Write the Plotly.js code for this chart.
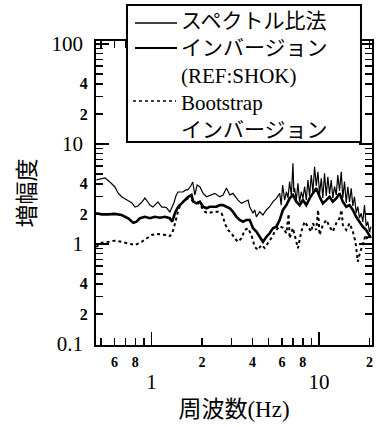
<!DOCTYPE html>
<html>
<head>
<meta charset="utf-8">
<script src="https://cdn.plot.ly/plotly-3.0.1.min.js"></script>
<style>html,body{margin:0;padding:0;background:#fff;}#chart{width:379px;height:427px;}</style>
</head>
<body>
<div id="chart"></div>
<script>
// ---- data (frequency in Hz, amplification) ----
const seriesNames = ['スペクトル比法', 'インバージョン (REF:SHOK)', 'Bootstrap インバージョン'];

const freqSpec = [0.468,0.492,0.527,0.564,0.604,0.630,0.665,0.713,0.763,0.795,0.828,0.875,0.912,0.950,0.977,1.018,1.061,1.091,1.151,1.200,1.233,1.285,1.358,1.396,1.436,1.538,1.600,1.645,1.714,1.762,1.811,1.870,1.941,2.03,2.13,2.23,2.38,2.55,2.67,2.80,2.93,3.06,3.28,3.44,3.60,3.77,3.85,4.03,4.13,4.22,4.42,4.62,4.84,5.07,5.31,5.56,5.82,
  5.94,6.06,6.23,6.38,6.52,6.67,6.83,6.98,7.07,7.14,7.31,7.48,7.65,7.83,8.01,8.20,8.39,8.58,8.78,8.98,9.19,9.40,9.62,9.84,10.07,10.31,10.53,10.78,11.04,11.28,11.55,11.82,12.08,12.37,12.66,12.94,13.25,13.56,13.86,14.19,14.53,14.85,15.20,15.56,15.90,16.27,16.66,17.03,17.43,17.84,18.24,18.67,19.11,19.53,20.0,20.41];
const ampSpec = [4.37,4.47,4.57,4.17,3.72,3.24,2.95,2.75,2.57,2.34,2.40,2.63,2.88,2.63,2.45,2.34,2.51,2.63,2.34,2.34,2.29,2.09,2.57,3.02,3.31,3.31,3.47,3.47,3.80,4.17,3.09,3.89,3.74,3.21,2.97,3.09,3.21,2.97,3.09,3.63,3.09,3.21,2.75,2.55,2.65,2.75,2.36,2.03,2.19,1.87,2.10,1.95,2.19,2.36,2.65,2.86,3.21,
  2.45,3.89,2.75,3.33,2.88,4.20,3.02,6.41,3.31,3.63,2.75,4.05,2.63,3.33,2.88,3.74,2.75,4.37,3.02,4.90,3.31,5.93,3.80,5.28,3.16,4.54,2.88,5.09,3.02,4.71,3.16,4.37,2.88,3.74,3.09,4.90,3.39,5.28,2.88,4.20,2.57,3.74,2.63,3.61,2.40,2.97,2.04,2.36,1.82,2.03,1.66,2.45,1.51,1.67,1.32,1.49];

const freqInv = [0.466,0.504,0.551,0.604,0.662,0.725,0.777,0.814,0.852,0.912,0.977,1.046,1.121,1.200,1.285,1.327,1.377,1.440,1.509,1.579,1.653,1.731,1.770,1.854,1.941,2.030,2.127,2.226,2.329,2.440,2.553,2.672,2.799,2.929,3.064,3.210,3.359,3.515,3.683,3.853,4.032,4.224,4.420,4.524,4.625,4.846,5.070,5.305,5.559,5.816,6.085,6.376,6.672,6.982,7.314,7.652,8.007,8.388,8.776,9.185,9.623,10.07,10.53,11.04,11.55,12.08,12.66,13.25,13.86,14.53,15.20,15.90,16.66,17.43,18.24,19.11,20.00,20.4];
const ampInv = [2.03,1.98,1.98,2.00,1.95,1.81,1.63,1.67,1.81,1.87,1.81,1.87,1.83,1.87,1.81,1.67,2.03,2.36,2.55,2.75,2.97,3.09,2.65,2.55,2.65,2.36,2.28,2.36,2.36,2.36,2.45,2.45,2.36,2.28,2.10,1.87,1.74,1.67,1.74,1.74,1.44,1.33,1.18,1.10,1.05,1.18,1.28,1.44,1.49,1.74,2.19,2.45,2.86,3.09,2.65,2.45,2.75,2.45,2.86,3.21,3.61,2.97,2.55,2.75,2.97,2.65,2.86,3.21,2.65,2.36,2.45,2.19,1.87,1.67,1.49,1.38,1.23,1.15];

const freqBoot = [0.466,0.481,0.504,0.551,0.604,0.662,0.725,0.795,0.872,0.934,1.000,1.071,1.147,1.228,1.285,1.327,1.364,1.409,1.455,1.509,1.579,1.653,1.731,1.854,1.967,2.078,2.175,2.329,2.494,2.613,2.672,2.734,2.861,2.998,3.136,3.282,3.438,3.597,3.764,3.945,4.127,4.318,4.524,4.734,4.954,5.19,5.43,5.68,5.82,6.09,6.38,6.58,6.67,6.98,7.31,7.48,7.83,8.20,8.58,8.98,9.19,9.62,9.86,10.07,10.53,11.04,11.55,12.08,12.66,13.25,13.62,13.86,14.53,15.20,15.90,16.50,17.03,17.60,18.24,18.93,19.53,20.19];
const ampBoot = [0.933,0.977,1.03,1.05,1.08,1.05,1.02,0.977,1.05,1.14,1.23,1.26,1.25,1.23,1.20,1.28,1.49,1.87,2.28,2.55,2.75,2.86,2.75,2.65,2.40,2.10,2.03,2.10,2.10,2.03,1.87,1.61,1.38,1.28,1.14,1.05,1.14,1.38,1.44,1.23,0.94,0.871,0.977,0.912,1.02,1.15,1.32,1.45,1.51,1.45,1.28,2.0,1.14,1.44,1.02,0.906,1.33,1.67,1.49,1.33,1.61,1.38,2.19,1.23,1.55,1.74,1.49,1.33,1.61,1.81,2.19,1.55,1.38,1.61,1.33,1.05,0.665,0.838,0.977,1.23,1.10,1.33];

// ---- tick labels ----
const xMinorVals = [0.5,0.6,0.7,0.8,0.9,2,3,4,5,6,7,8,9,20];
const xMinorText = ['','6','','8','','2','','4','','6','','8','','2'];
const xDecadeVals = [1,10];
const xDecadeText = ['1','10'];
const yMinorVals = [0.2,0.3,0.4,0.5,0.6,0.7,0.8,0.9,2,3,4,5,6,7,8,9,20,30,40,50,60,70,80,90];
const yMinorText = ['2','','4','','','','','','2','','4','','','','','','2','','4','','','','',''];
const yDecadeVals = [0.1,1,10,100];
const yDecadeText = ['0.1','1','10','100'];

// ---- text ----
const xTitle = '周波数(Hz)';
const yTitle = '増幅度';
const legendLines = ['スペクトル比法','インバージョン','(REF:SHOK)','Bootstrap','インバージョン'];

const FONT = 'Liberation Serif, Noto Sans CJK JP, serif';
const legendText = legendLines.join('<br>');

const traces = [
  {x: freqSpec, y: ampSpec, name: seriesNames[0], type: 'scatter', mode: 'lines',
   line: {color: '#000', width: 1.2}, showlegend: false},
  {x: freqInv, y: ampInv, name: seriesNames[1], type: 'scatter', mode: 'lines',
   line: {color: '#000', width: 2.6}, showlegend: false},
  {x: freqBoot, y: ampBoot, name: seriesNames[2], type: 'scatter', mode: 'lines',
   xaxis: 'x2', yaxis: 'y2',
   line: {color: '#000', width: 2, dash: 'dot'}, showlegend: false}
];

const xr = [-0.332, 1.316];
const yr = [-1.01, 2.03];

const baseAxis = {
  type: 'log', showgrid: false, zeroline: false, ticks: 'inside',
  tickcolor: '#000', tickwidth: 1.5, mirror: 'allticks', tickmode: 'array',
  automargin: false
};

const layout = {
  width: 379, height: 427,
  margin: {l: 96, r: 7, t: 41, b: 82},
  paper_bgcolor: '#fff', plot_bgcolor: '#fff',
  font: {family: FONT, color: '#000'},
  xaxis: Object.assign({}, baseAxis, {
    range: xr, tickvals: xMinorVals, ticktext: xMinorText, ticklen: 7,
    showline: true, linewidth: 2, linecolor: '#000',
    tickfont: {family: FONT, size: 14, weight: 'bold', color: '#000'},
    ticklabelstandoff: 3,
    title: {text: xTitle, font: {family: FONT, size: 23, color: '#000'}, standoff: 32}
  }),
  xaxis2: Object.assign({}, baseAxis, {
    overlaying: 'x', anchor: 'y2', side: 'bottom',
    range: xr, tickvals: xDecadeVals, ticktext: xDecadeText, ticklen: 13,
    showline: false,
    tickfont: {family: FONT, size: 21, color: '#000'},
    ticklabelstandoff: 22
  }),
  yaxis: Object.assign({}, baseAxis, {
    range: yr, tickvals: yMinorVals, ticktext: yMinorText, ticklen: 7,
    showline: true, linewidth: 2, linecolor: '#000',
    tickfont: {family: FONT, size: 16, weight: 'bold', color: '#000'},
    ticklabelstandoff: 3,
    title: {text: yTitle, font: {family: FONT, size: 23, color: '#000'}, standoff: 38}
  }),
  yaxis2: Object.assign({}, baseAxis, {
    overlaying: 'y', anchor: 'x2', side: 'left',
    range: yr, tickvals: yDecadeVals, ticktext: yDecadeText, ticklen: 13,
    showline: false,
    tickfont: {family: FONT, size: 21, color: '#000'},
    ticklabelstandoff: 12
  }),
  shapes: [
    {type: 'rect', xref: 'paper', yref: 'paper', x0: 0.1123, x1: 0.9601, y0: 0.6678, y1: 1.1184,
     line: {color: '#000', width: 2}, fillcolor: '#fff', layer: 'above'},
    {type: 'line', xref: 'paper', yref: 'paper', x0: 0.1413, x1: 0.2935, y0: 1.0592, y1: 1.0592,
     line: {color: '#000', width: 1.3}, layer: 'above'},
    {type: 'line', xref: 'paper', yref: 'paper', x0: 0.1413, x1: 0.2935, y0: 0.977, y1: 0.977,
     line: {color: '#000', width: 2}, layer: 'above'},
    {type: 'line', xref: 'paper', yref: 'paper', x0: 0.134, x1: 0.2899, y0: 0.8026, y1: 0.8026,
     line: {color: '#000', width: 1.4, dash: 'dot'}, layer: 'above'}
  ],
  annotations: [
    {text: legendText, xref: 'paper', yref: 'paper', x: 0.3043, y: 0.8865,
     xanchor: 'left', yanchor: 'middle', align: 'left', showarrow: false, borderpad: 0,
     font: {family: FONT, size: 21, color: '#000'}}
  ]
};

Plotly.newPlot('chart', traces, layout, {staticPlot: true, displayModeBar: false});
</script>
</body>
</html>
